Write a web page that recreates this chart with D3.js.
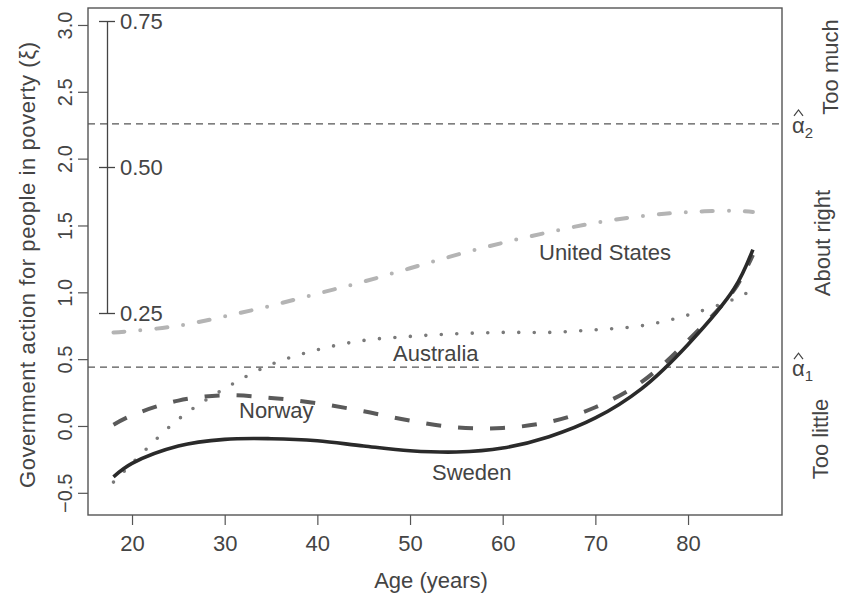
<!DOCTYPE html>
<html>
<head>
<meta charset="utf-8">
<script src="https://cdn.jsdelivr.net/npm/d3@7"></script>
<style>
  body { margin: 0; background: #fff; }
  text { font-family: "Liberation Sans", Arial, sans-serif; fill: #444; }
</style>
</head>
<body>
<svg id="chart" width="842" height="595"></svg>
<script>
var ages = [18, 20, 25, 30, 35, 40, 45, 50, 55, 60, 65, 70, 75, 80, 85, 87];

var sweden = [-0.38, -0.28, -0.15, -0.10, -0.095, -0.11, -0.15, -0.185, -0.195, -0.165, -0.08, 0.06, 0.28, 0.61, 1.03, 1.32];
var norway = [0.01, 0.08, 0.19, 0.23, 0.21, 0.17, 0.11, 0.04, -0.01, -0.015, 0.03, 0.14, 0.33, 0.64, 1.02, 1.28];
var australia = [-0.42, -0.28, 0.05, 0.28, 0.46, 0.57, 0.64, 0.67, 0.69, 0.70, 0.70, 0.72, 0.75, 0.83, 0.95, 1.02];
var unitedStates = [0.70, 0.71, 0.75, 0.82, 0.90, 0.99, 1.08, 1.18, 1.28, 1.37, 1.45, 1.52, 1.57, 1.60, 1.61, 1.60];

var xTicks = [20, 30, 40, 50, 60, 70, 80];
var yTicks = [-0.5, 0, 0.5, 1, 1.5, 2, 2.5, 3];
var probTicks = [0.25, 0.5, 0.75];
var thresholds = [0.44, 2.26];   // alpha-hat 1, alpha-hat 2
var zones = ["Too little", "About right", "Too much"];

var svg = d3.select("#chart");
var plotL = 88, plotR = 782, plotT = 8, plotB = 515;
var font = "Liberation Sans, Arial, sans-serif";

var x = d3.scaleLinear().domain([15.25, 90.14]).range([plotL, plotR]);
var y = d3.scaleLinear().domain([-0.666, 3.127]).range([plotB, plotT]);

// x axis
var gx = svg.append("g")
  .attr("transform", "translate(0," + plotB + ")")
  .call(d3.axisBottom(x).tickValues(xTicks).tickSize(10).tickSizeOuter(0).tickPadding(10));
gx.select(".domain").remove();
gx.selectAll("line").attr("stroke", "#555").attr("stroke-width", 1.2);
gx.selectAll("text").style("font-size", "22px").style("fill", "#444").style("font-family", font);

// y axis, labels parallel to the axis
var gy = svg.append("g")
  .attr("transform", "translate(" + plotL + ",0)")
  .call(d3.axisLeft(y).tickValues(yTicks).tickSize(10).tickSizeOuter(0));
gy.select(".domain").remove();
gy.selectAll("line").attr("stroke", "#555").attr("stroke-width", 1.2);
gy.selectAll("text")
  .attr("x", null).attr("dy", null)
  .attr("transform", "translate(-16,0) rotate(-90)")
  .attr("text-anchor", "middle")
  .style("font-size", "20px").style("fill", "#444").style("font-family", font)
  .text(function(d) { return d3.format(".1f")(d).replace("-", "\u2212"); });

// threshold lines
svg.selectAll(".thr").data(thresholds).enter().append("line")
  .attr("x1", plotL).attr("x2", plotR)
  .attr("y1", function(d) { return y(d); }).attr("y2", function(d) { return y(d); })
  .attr("stroke", "#555").attr("stroke-width", 1.1)
  .attr("stroke-dasharray", "7,5");

// series
var line = d3.line()
  .x(function(d, i) { return x(ages[i]); })
  .y(function(d) { return y(d); })
  .curve(d3.curveCatmullRom);

var series = [
  { v: unitedStates, color: "#b4b4b4", width: 4, dash: "11,16,0,16", cap: "round" },
  { v: australia, color: "#7a7a7a", width: 3.6, dash: "0,15.5", cap: "round" },
  { v: norway, color: "#5a5a5a", width: 4, dash: "15,17", cap: "butt" },
  { v: sweden, color: "#2a2a2a", width: 3.6, dash: null, cap: "butt" }
];

series.forEach(function(s) {
  svg.append("path")
    .attr("d", line(s.v))
    .attr("fill", "none")
    .attr("stroke", s.color)
    .attr("stroke-width", s.width)
    .attr("stroke-linecap", s.cap)
    .attr("stroke-dasharray", s.dash);
});

// curve labels
var labels = [
  ["United States", 539, 260],
  ["Australia", 393, 361],
  ["Norway", 239, 418],
  ["Sweden", 432, 480]
];
labels.forEach(function(l) {
  svg.append("text").attr("x", l[1]).attr("y", l[2])
    .style("font-size", "22px").text(l[0]);
});

// plot frame
svg.append("rect")
  .attr("x", plotL).attr("y", plotT)
  .attr("width", plotR - plotL).attr("height", plotB - plotT)
  .attr("fill", "none").attr("stroke", "#555").attr("stroke-width", 1.4);

// inset probability scale
var p = d3.scaleLinear().domain([0.25, 0.75]).range([313, 21]);
var gp = svg.append("g")
  .attr("transform", "translate(107,0)")
  .call(d3.axisRight(p).tickValues(probTicks).tickSize(8).tickSizeOuter(0).tickPadding(5)
    .tickFormat(d3.format(".2f")));
gp.select(".domain").attr("stroke", "#444").attr("stroke-width", 1.3);
gp.selectAll("line").attr("x1", -8).attr("stroke", "#444").attr("stroke-width", 1.3);
gp.selectAll("text").style("font-size", "22px").style("fill", "#444").style("font-family", font);

// axis titles
svg.append("text")
  .attr("x", 431).attr("y", 588)
  .attr("text-anchor", "middle")
  .style("font-size", "22px")
  .text("Age (years)");

svg.append("text")
  .attr("transform", "translate(35,265) rotate(-90)")
  .attr("text-anchor", "middle")
  .attr("textLength", 446)
  .attr("lengthAdjust", "spacing")
  .style("font-size", "22px")
  .text("Government action for people in poverty  (\u03BE)");

// alpha hat labels (hat drawn as a small chevron)
thresholds.forEach(function(t, i) {
  var g = svg.append("g").attr("transform", "translate(792," + (y(t) + 9) + ")");
  g.append("text").attr("x", 0).attr("y", 0).style("font-size", "22px")
    .text("\u03B1")
    .append("tspan").attr("dy", 5).style("font-size", "15px").text(i + 1);
  g.append("path")
    .attr("d", "M2,-17 L6.5,-23 L11,-17")
    .attr("fill", "none").attr("stroke", "#444").attr("stroke-width", 1.2);
});

// response zones on the right
var zonePos = [[828, 439], [830, 243], [838, 67]];
zones.forEach(function(z, i) {
  svg.append("text")
    .attr("transform", "translate(" + zonePos[i][0] + "," + zonePos[i][1] + ") rotate(-90)")
    .attr("text-anchor", "middle")
    .style("font-size", "22px")
    .text(z);
});
</script>
</body>
</html>
